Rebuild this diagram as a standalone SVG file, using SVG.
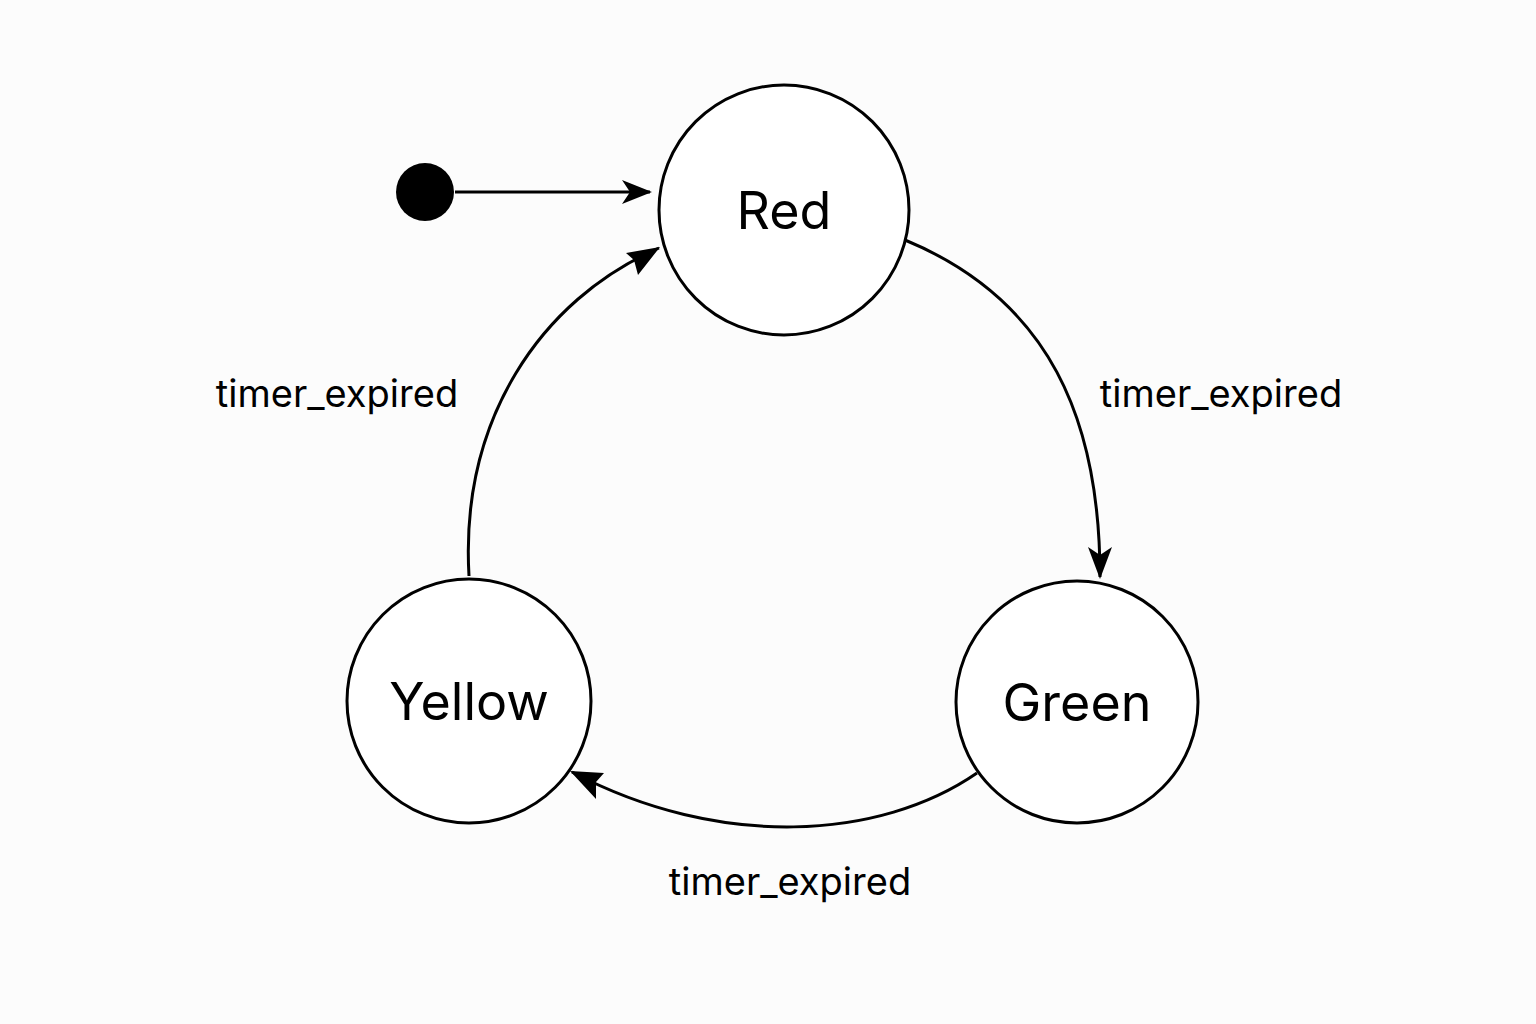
<svg xmlns="http://www.w3.org/2000/svg" width="1536" height="1024" viewBox="0 0 1536 1024">
<style>
.st{fill:#fff;stroke:#000;stroke-width:3}
.sl{font-family:"Inter","Liberation Sans",sans-serif;font-size:52px;text-anchor:middle;fill:#000}
.el{font-family:"Inter","Liberation Sans",sans-serif;font-size:38px;text-anchor:middle;fill:#000}
.c{fill:none;stroke:#000;stroke-width:3}
</style>
<rect width="1536" height="1024" fill="#fcfcfc"/>
<g id="connectors">
<path class="c" d="M455,192 L650,192"/>
<path d="M622,180 L652,192 L622,204 L630,192 Z"/>
<path class="c" d="M905,240 C1050,300 1100,420 1100,577"/>
<path d="M1088,547 L1100,579 L1112,547 L1100,555 Z"/>
<path class="c" d="M977,773 C880,840 720,850 572,772"/>
<path d="M570,771 L604,773 L596,782 L596,799 Z"/>
<path class="c" d="M469,576 C460,420 540,300 659,248"/>
<path d="M660,247 L626,253 L634,260 L638,275 Z"/>
<text class="el" x="337" y="407">timer_expired</text>
<text class="el" x="1221" y="407">timer_expired</text>
<text class="el" x="790" y="895">timer_expired</text>
</g>
<g id="initial"><circle cx="425" cy="192" r="29" fill="#000"/></g>
<g id="red"><circle class="st" cx="784" cy="210" r="125"/><text class="sl" x="784" y="229">Red</text></g>
<g id="green"><circle class="st" cx="1077" cy="702" r="121"/><text class="sl" x="1077" y="721">Green</text></g>
<g id="yellow"><circle class="st" cx="469" cy="701" r="122"/><text class="sl" x="469" y="720">Yellow</text></g>
</svg>
